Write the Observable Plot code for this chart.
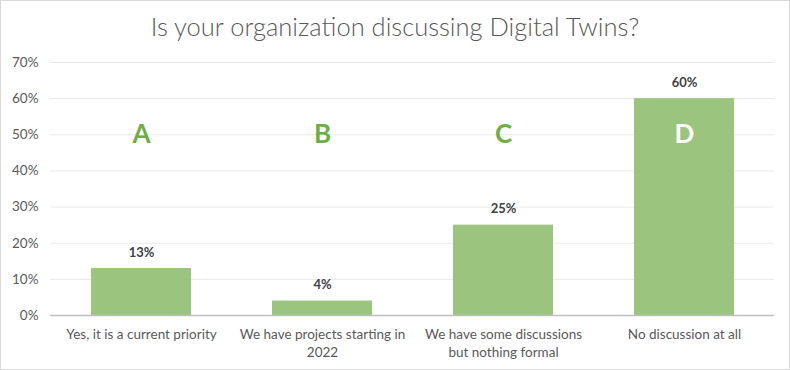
<!DOCTYPE html>
<html><head><meta charset="utf-8">
<script src="https://cdn.jsdelivr.net/npm/d3@7"></script>
<script src="https://cdn.jsdelivr.net/npm/@observablehq/plot@0.6"></script>
<style>
body{margin:0;background:#fff;}
#wrap{width:788px;height:368px;border:1px solid #d9d9d9;background:#fff;font-family:Lato,"Open Sans",sans-serif;}
#title{height:48px;line-height:50px;text-align:center;font-size:25.5px;font-weight:300;color:#595959;}
</style></head>
<body><div id="wrap"><div id="title">Is your organization discussing Digital Twins?</div><div id="chart"></div></div>
<script>
const categories = ["Yes, it is a current priority","We have projects starting in 2022","We have some discussions but nothing formal","No discussion at all"];
const tickLabels = ["Yes, it is a current priority","We have projects starting in\n2022","We have some discussions\nbut nothing formal","No discussion at all"];
const values = [0.13, 0.04, 0.25, 0.60];
const letters = ["A","B","C","D"];
const letterColors = ["#70ad47","#70ad47","#70ad47","#ffffff"];
const yTicks = [0,0.1,0.2,0.3,0.4,0.5,0.6,0.7];

const data = categories.map((c,i)=>({cat:c, value:values[i], letter:letters[i], lc:letterColors[i]}));
const labelOf = new Map(categories.map((c,i)=>[c,tickLabels[i]]));

const chart = Plot.plot({
  width:788, height:320,
  marginTop:13, marginBottom:54, marginLeft:49, marginRight:15,
  style:{fontFamily:"Lato, 'Open Sans', sans-serif", background:"#fff"},
  x:{domain:categories, paddingInner:0.45, paddingOuter:0.225, label:null},
  y:{domain:[0,0.7], label:null},
  marks:[
    Plot.gridY(yTicks,{stroke:"#e8e8e8", strokeOpacity:1}),
    Plot.axisY(yTicks,{tickSize:0, tickPadding:12, tickFormat:d3.format(".0%"), fontSize:13.5, fill:"#595959", label:null}),
    Plot.barY(data,{x:"cat", y:"value", fill:"#9bc57e"}),
    Plot.ruleY([0],{stroke:"#bfbfbf", strokeWidth:1.5}),
    Plot.axisX({tickSize:0, tickPadding:11, tickFormat:d=>labelOf.get(d), fontSize:13.5, fill:"#595959", lineHeight:1.3, label:null}),
    Plot.text(data,{x:"cat", y:"value", text:d=>d3.format(".0%")(d.value), dy:-16, fontSize:13, fontWeight:"bold", fill:"#404040"}),
    Plot.text(data,{x:"cat", y:()=>0.5, text:"letter", fill:"lc", fontSize:26, fontWeight:"bold"})
  ]
});
document.getElementById("chart").appendChild(chart);
</script></body></html>
